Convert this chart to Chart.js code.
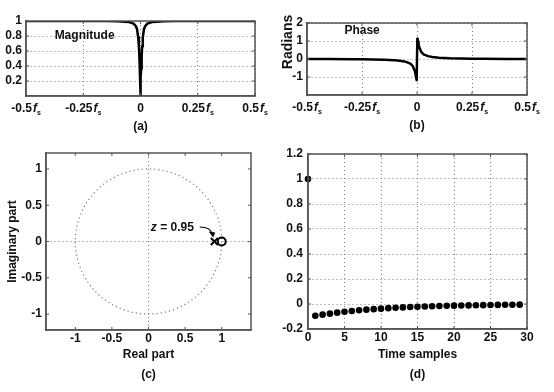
<!DOCTYPE html>
<html>
<head>
<meta charset="utf-8">
<script src="https://cdn.jsdelivr.net/npm/chart.js@4.4.0/dist/chart.umd.min.js"></script>
<style>
  html, body { margin: 0; padding: 0; background: #fff; }
  #wrap { position: relative; width: 554px; height: 392px; overflow: hidden; }
  #wrap canvas { position: absolute; }
</style>
</head>
<body>
<div id="wrap">
  <canvas id="magChart" width="277" height="140" style="left:0;top:0"></canvas>
  <canvas id="phaseChart" width="277" height="140" style="left:277px;top:0"></canvas>
  <canvas id="zplaneChart" width="277" height="252" style="left:0;top:140px"></canvas>
  <canvas id="impulseChart" width="277" height="252" style="left:277px;top:140px"></canvas>
</div>
<script>
// ---- data ----
const freqTicks = [-0.5, -0.25, 0, 0.25, 0.5];
const freqTickText = ['-0.5', '-0.25', '0', '0.25', '0.5'];

const magFreq = [-0.5, -0.4, -0.3, -0.2, -0.15, -0.1, -0.07, -0.05, -0.03, -0.02, -0.015, -0.01, -0.007, -0.005, -0.003, -0.002, -0.001,
  0, 0.001, 0.002, 0.003, 0.005, 0.007, 0.01, 0.015, 0.02, 0.03, 0.05, 0.07, 0.1, 0.15, 0.2, 0.3, 0.4, 0.5];
const magValues = [1, 1, 1, 1, 1, 0.995, 0.99, 0.985, 0.965, 0.93, 0.89, 0.78, 0.66, 0.53, 0.36, 0.25, 0.13,
  0, 0.13, 0.25, 0.36, 0.53, 0.66, 0.78, 0.89, 0.93, 0.965, 0.985, 0.99, 0.995, 1, 1, 1, 1, 1];
const magYTicks = [0.2, 0.4, 0.6, 0.8, 1];

const phaseFreq = [-0.5, -0.4, -0.3, -0.25, -0.2, -0.15, -0.1, -0.07, -0.05, -0.03, -0.02, -0.01, -0.007, -0.005, -0.003, -0.0015,
  0.0015, 0.003, 0.005, 0.007, 0.01, 0.02, 0.03, 0.05, 0.07, 0.1, 0.15, 0.2, 0.25, 0.3, 0.4, 0.5];
const phaseValues = [0, -0.005, -0.01, -0.02, -0.03, -0.04, -0.07, -0.11, -0.16, -0.26, -0.38, -0.66, -0.82, -0.97, -1.1, -1.18,
  1.12, 1.06, 0.96, 0.82, 0.66, 0.38, 0.26, 0.16, 0.11, 0.07, 0.04, 0.03, 0.02, 0.01, 0.005, 0];
const phaseYTicks = [-1, 0, 1, 2];

const zTicks = [-1, -0.5, 0, 0.5, 1];
const poles = [0.9];
const zeros = [1];

const samples = [0, 1, 2, 3, 4, 5, 6, 7, 8, 9, 10, 11, 12, 13, 14, 15, 16, 17, 18, 19, 20, 21, 22, 23, 24, 25, 26, 27, 28, 29];
const impulse = [1, -0.094, -0.085, -0.077, -0.069, -0.062, -0.056, -0.05, -0.045, -0.041, -0.037, -0.033, -0.03, -0.027, -0.024,
  -0.022, -0.02, -0.018, -0.016, -0.014, -0.013, -0.012, -0.011, -0.01, -0.009, -0.008, -0.007, -0.006, -0.006, -0.005];
const impulseXTicks = [0, 5, 10, 15, 20, 25, 30];
const impulseYTicks = [-0.2, 0, 0.2, 0.4, 0.6, 0.8, 1, 1.2];

// ---- look ----
const FONT = "'Liberation Sans', Arial, sans-serif";
const TXT = '#111';
const GRID = '#7a7a7a';
const BOX = '#555';
Chart.defaults.font.family = FONT;
Chart.defaults.font.size = 11;
Chart.defaults.font.weight = 'bold';
Chart.defaults.color = TXT;

const fixTicks = vals => s => { s.ticks = vals.map(v => ({ value: v })); };
const plainNum = v => String(Math.round(v * 10) / 10);

// box round the plot area plus small inward tick marks
const frame = {
  id: 'frame',
  afterDatasetsDraw(chart) {
    const { ctx, chartArea: a, scales } = chart;
    ctx.save();
    ctx.strokeStyle = BOX;
    ctx.lineWidth = 1.5;
    ctx.strokeRect(a.left, a.top, a.right - a.left, a.bottom - a.top);
    ctx.lineWidth = 1;
    ctx.beginPath();
    scales.x.ticks.forEach(t => {
      const px = scales.x.getPixelForValue(t.value);
      ctx.moveTo(px, a.bottom); ctx.lineTo(px, a.bottom - 3);
      ctx.moveTo(px, a.top); ctx.lineTo(px, a.top + 3);
    });
    scales.y.ticks.forEach(t => {
      const py = scales.y.getPixelForValue(t.value);
      ctx.moveTo(a.left, py); ctx.lineTo(a.left + 3, py);
      ctx.moveTo(a.right, py); ctx.lineTo(a.right - 3, py);
    });
    ctx.stroke();
    ctx.restore();
  }
};

// "-0.5 f_s" style labels under the frequency axis
const fsLabels = {
  id: 'fsLabels',
  afterDraw(chart) {
    const ctx = chart.ctx, s = chart.scales.x, y = chart.chartArea.bottom + 13;
    ctx.save();
    ctx.fillStyle = TXT;
    ctx.textBaseline = 'middle';
    ctx.textAlign = 'left';
    freqTicks.forEach((v, i) => {
      const num = freqTickText[i];
      ctx.font = 'bold 12px ' + FONT;
      const wn = ctx.measureText(num).width;
      let wf = 0, ws = 0;
      if (v !== 0) {
        ctx.font = 'italic bold 12px ' + FONT;
        wf = ctx.measureText('f').width + 1;
        ctx.font = 'bold 7px ' + FONT;
        ws = ctx.measureText('s').width;
      }
      let x = s.getPixelForValue(v) - (wn + wf + ws) / 2;
      ctx.font = 'bold 12px ' + FONT;
      ctx.fillText(num, x, y);
      if (v !== 0) {
        x += wn + 1;
        ctx.font = 'italic bold 12px ' + FONT;
        ctx.fillText('f', x, y);
        ctx.font = 'bold 7px ' + FONT;
        ctx.fillText('s', x + wf - 1, y + 4);
      }
    });
    ctx.restore();
  }
};

function axisX(min, max, ticks, height, title, titlePad, showLabels) {
  return {
    type: 'linear', min: min, max: max,
    afterBuildTicks: fixTicks(ticks),
    afterFit: s => { s.height = height; s.paddingLeft = 0; s.paddingRight = 0; },
    ticks: { display: showLabels, padding: 1, font: { size: 12 }, callback: plainNum },
    grid: { color: GRID, drawTicks: false },
    border: { color: BOX, width: 1.5, dash: [1, 3] },
    title: { display: true, text: title, font: { size: 12, lineHeight: '20px' }, padding: { top: 0, bottom: titlePad } }
  };
}
function axisY(min, max, ticks, width, extra) {
  return Object.assign({
    type: 'linear', min: min, max: max,
    afterBuildTicks: fixTicks(ticks),
    afterFit: s => { s.width = width; s.paddingTop = 0; s.paddingBottom = 0; },
    ticks: { padding: 4, font: { size: 12 }, callback: plainNum },
    grid: { color: GRID, drawTicks: false },
    border: { color: BOX, width: 1.5, dash: [1, 3] }
  }, extra || {});
}
const base = { responsive: false, animation: false, plugins: { legend: { display: false }, tooltip: { enabled: false } } };

// (a) magnitude
new Chart('magChart', {
  type: 'line',
  data: { datasets: [{ data: magFreq.map((f, i) => ({ x: f, y: magValues[i] })), borderColor: '#000', borderWidth: 2.5, borderJoinStyle: 'round', pointRadius: 0, tension: 0 }] },
  options: Object.assign({}, base, {
    layout: { padding: { top: 21, right: 22, left: 0, bottom: 0 } },
    scales: {
      x: axisX(-0.5, 0.5, freqTicks, 44, '(a)', 3, false),
      y: axisY(0, 1, magYTicks, 26)
    }
  }),
  plugins: [frame, fsLabels, {
    id: 'magText',
    afterDraw(chart) {
      const ctx = chart.ctx;
      ctx.save();
      ctx.font = 'bold 12px ' + FONT;
      ctx.fillStyle = TXT;
      ctx.textBaseline = 'middle';
      ctx.fillText('Magnitude', chart.scales.x.getPixelForValue(-0.375), chart.scales.y.getPixelForValue(0.8));
      ctx.restore();
    }
  }]
});

// (b) phase
new Chart('phaseChart', {
  type: 'line',
  data: { datasets: [{ data: phaseFreq.map((f, i) => ({ x: f, y: phaseValues[i] })), borderColor: '#000', borderWidth: 2.5, borderJoinStyle: 'round', pointRadius: 0, tension: 0 }] },
  options: Object.assign({}, base, {
    layout: { padding: { top: 23, right: 27, left: 0, bottom: 0 } },
    scales: {
      x: axisX(-0.5, 0.5, freqTicks, 45, '(b)', 4, false),
      y: axisY(-2, 2, phaseYTicks, 30)
    }
  }),
  plugins: [frame, fsLabels, {
    id: 'phaseText',
    afterDraw(chart) {
      const ctx = chart.ctx;
      ctx.save();
      ctx.fillStyle = TXT;
      ctx.textBaseline = 'middle';
      ctx.font = 'bold 12px ' + FONT;
      ctx.fillText('Phase', chart.scales.x.getPixelForValue(-0.33), chart.scales.y.getPixelForValue(1.55));
      ctx.translate(11, 42);
      ctx.rotate(-Math.PI / 2);
      ctx.textAlign = 'center';
      ctx.font = 'bold 14px ' + FONT;
      ctx.fillText('Radians', 0, 0);
      ctx.restore();
    }
  }]
});

// (c) pole-zero plot
new Chart('zplaneChart', {
  type: 'scatter',
  data: {
    datasets: [
      { data: poles.map(p => ({ x: p, y: 0 })), pointStyle: 'crossRot', pointRadius: 5, borderColor: '#000', borderWidth: 2, clip: false },
      { data: zeros.map(z => ({ x: z, y: 0 })), pointStyle: 'circle', pointRadius: 4, borderColor: '#000', backgroundColor: 'rgba(0,0,0,0)', borderWidth: 2, clip: false }
    ]
  },
  options: Object.assign({}, base, {
    layout: { padding: { top: 13, right: 26, left: 0, bottom: 0 } },
    scales: {
      x: Object.assign(axisX(-1.4, 1.4, zTicks, 62, ['Real part', '(c)'], 7, true), {
        grid: { color: c => c.tick && c.tick.value === 0 ? GRID : 'rgba(0,0,0,0)', drawTicks: false }
      }),
      y: axisY(-1.22, 1.22, zTicks, 46, {
        grid: { color: c => c.tick && c.tick.value === 0 ? GRID : 'rgba(0,0,0,0)', drawTicks: false },
        title: { display: true, text: 'Imaginary part', font: { size: 12 }, padding: { top: 5, bottom: 0 } }
      })
    }
  }),
  plugins: [frame, {
    id: 'unitCircle',
    beforeDatasetsDraw(chart) {
      const { ctx, scales: { x, y } } = chart;
      const cx = x.getPixelForValue(0), cy = y.getPixelForValue(0);
      ctx.save();
      ctx.strokeStyle = GRID;
      ctx.lineWidth = 1.2;
      ctx.setLineDash([1.2, 3]);
      ctx.beginPath();
      ctx.ellipse(cx, cy, x.getPixelForValue(1) - cx, cy - y.getPixelForValue(1), 0, 0, 2 * Math.PI);
      ctx.stroke();
      ctx.restore();
    },
    afterDraw(chart) {
      const { ctx, scales: { x, y } } = chart;
      const tx = x.getPixelForValue(0.62), ty = y.getPixelForValue(0.19);
      ctx.save();
      ctx.fillStyle = TXT;
      ctx.textBaseline = 'middle';
      ctx.textAlign = 'right';
      ctx.font = 'bold 12px ' + FONT;
      const rest = ' = 0.95';
      const wr = ctx.measureText(rest).width;
      ctx.fillText(rest, tx, ty);
      ctx.font = 'italic bold 12px ' + FONT;
      ctx.fillText('z', tx - wr, ty);
      // arrow to the pole
      const ax = x.getPixelForValue(0.7), ay = y.getPixelForValue(0.2);
      const ex = x.getPixelForValue(0.87), ey = y.getPixelForValue(0.07);
      ctx.strokeStyle = '#000';
      ctx.lineWidth = 1.2;
      ctx.beginPath();
      ctx.moveTo(ax, ay);
      ctx.quadraticCurveTo(ex - 2, ay, ex, ey - 3);
      ctx.stroke();
      ctx.beginPath();
      ctx.moveTo(ex + 1, ey + 1);
      ctx.lineTo(ex - 3.5, ey - 5);
      ctx.lineTo(ex + 3, ey - 4);
      ctx.closePath();
      ctx.fillStyle = '#000';
      ctx.fill();
      ctx.restore();
    }
  }]
});

// (d) impulse response
new Chart('impulseChart', {
  type: 'scatter',
  data: { datasets: [{ data: samples.map((n, i) => ({ x: n, y: impulse[i] })), pointRadius: 3.3, backgroundColor: '#000', borderColor: '#000', borderWidth: 0, clip: false }] },
  options: Object.assign({}, base, {
    layout: { padding: { top: 14, right: 27, left: 0, bottom: 0 } },
    scales: {
      x: axisX(0, 30, impulseXTicks, 63, ['Time samples', '(d)'], 7, true),
      y: axisY(-0.2, 1.2, impulseYTicks, 31, { ticks: { padding: 5, font: { size: 12 }, callback: plainNum } })
    }
  }),
  plugins: [frame]
});
</script>
</body>
</html>
